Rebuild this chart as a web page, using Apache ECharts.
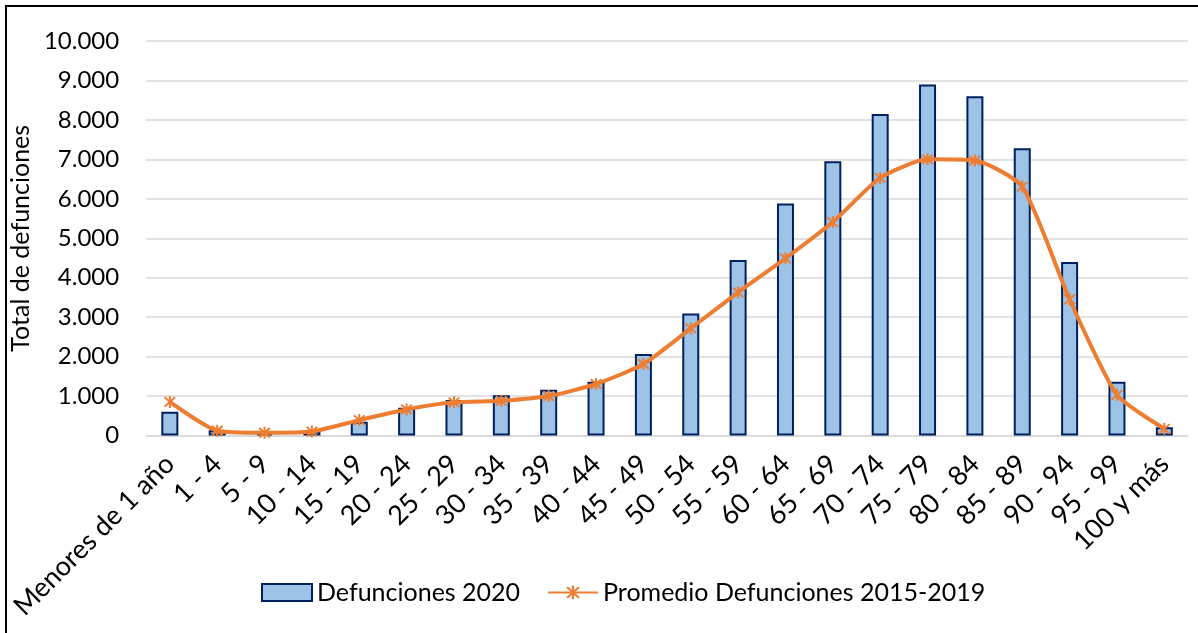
<!DOCTYPE html>
<html>
<head>
<meta charset="utf-8">
<script src="https://cdn.jsdelivr.net/npm/echarts@6/dist/echarts.min.js"></script>
<style>
html,body{margin:0;padding:0;background:#fff;}
#chart{width:1198px;height:633px;}
</style>
</head>
<body>
<div id="chart"></div>
<script>
const categories = ["Menores de 1 año","1 - 4","5 - 9","10 - 14","15 - 19","20 - 24","25 - 29","30 - 34","35 - 39","40 - 44","45 - 49","50 - 54","55 - 59","60 - 64","65 - 69","70 - 74","75 - 79","80 - 84","85 - 89","90 - 94","95 - 99","100 y más"];
const defunciones2020 = [600,130,50,115,350,705,900,1020,1160,1365,2065,3095,4450,5880,6950,8150,8900,8600,7280,4400,1365,212];
const promedio2015_2019 = [850,120,70,100,390,660,840,880,1000,1305,1810,2715,3630,4490,5410,6530,7000,6970,6310,3450,1030,170];
const seriesNames = ["Defunciones 2020","Promedio Defunciones 2015-2019"];
const yAxisTitle = "Total de defunciones";

const FONT = "Lato";
const star = 'path://M-0.9,-6 L0.9,-6 L0.9,6 L-0.9,6 Z M-5.4,-4.1 L-4.1,-5.4 L5.4,4.1 L4.1,5.4 Z M4.1,-5.4 L5.4,-4.1 L-4.1,5.4 L-5.4,4.1 Z';

function fmt(v){ return String(v).replace(/\B(?=(\d{3})+(?!\d))/g, '.'); }

const chart = echarts.init(document.getElementById('chart'));
chart.setOption({
  backgroundColor:'#fff',
  animation:false,
  textStyle:{fontFamily:FONT},
  grid:{left:139,right:10,top:41,bottom:197.5,containLabel:false},
  legend:{
    left:256, top:575,
    itemWidth:50, itemHeight:17, itemGap:27,
    textStyle:{fontFamily:FONT,fontSize:25,color:'#000',padding:[0,0,0,0]},
    data:[
      {name:seriesNames[0], icon:'rect'},
      {name:seriesNames[1]}
    ]
  },
  xAxis:{
    type:'category',
    data:categories,
    axisTick:{show:false},
    axisLine:{lineStyle:{color:'#D9D9D9',width:1.5}},
    axisLabel:{rotate:45,interval:0,margin:24,fontFamily:FONT,fontSize:27,color:'#000'}
  },
  yAxis:{
    type:'value',
    min:0,max:10000,interval:1000,
    name:yAxisTitle,
    nameLocation:'middle',
    nameGap:100,
    nameRotate:90,
    nameTextStyle:{fontFamily:FONT,fontSize:25,color:'#000'},
    axisLine:{show:false},
    axisTick:{show:false},
    splitLine:{lineStyle:{color:'#D9D9D9',width:1.5}},
    axisLabel:{margin:27,fontFamily:FONT,fontSize:24,color:'#000',formatter:fmt}
  },
  series:[
    {
      name:seriesNames[0],
      type:'bar',
      data:defunciones2020,
      barWidth:17,
      itemStyle:{color:'#9DC3E6',borderColor:'#002060',borderWidth:2}
    },
    {
      name:seriesNames[1],
      type:'line',
      data:promedio2015_2019,
      smooth:0.2,
      symbol:star,
      symbolSize:12,
      showAllSymbol:true,
      lineStyle:{color:'#ED7D31',width:4},
      itemStyle:{color:'#ED7D31'}
    }
  ],
  graphic:[
    {type:'rect',shape:{x:6,y:6,width:1400,height:1000},style:{fill:null,stroke:'#000',lineWidth:2},silent:true,z:100}
  ]
});
</script>
</body>
</html>
